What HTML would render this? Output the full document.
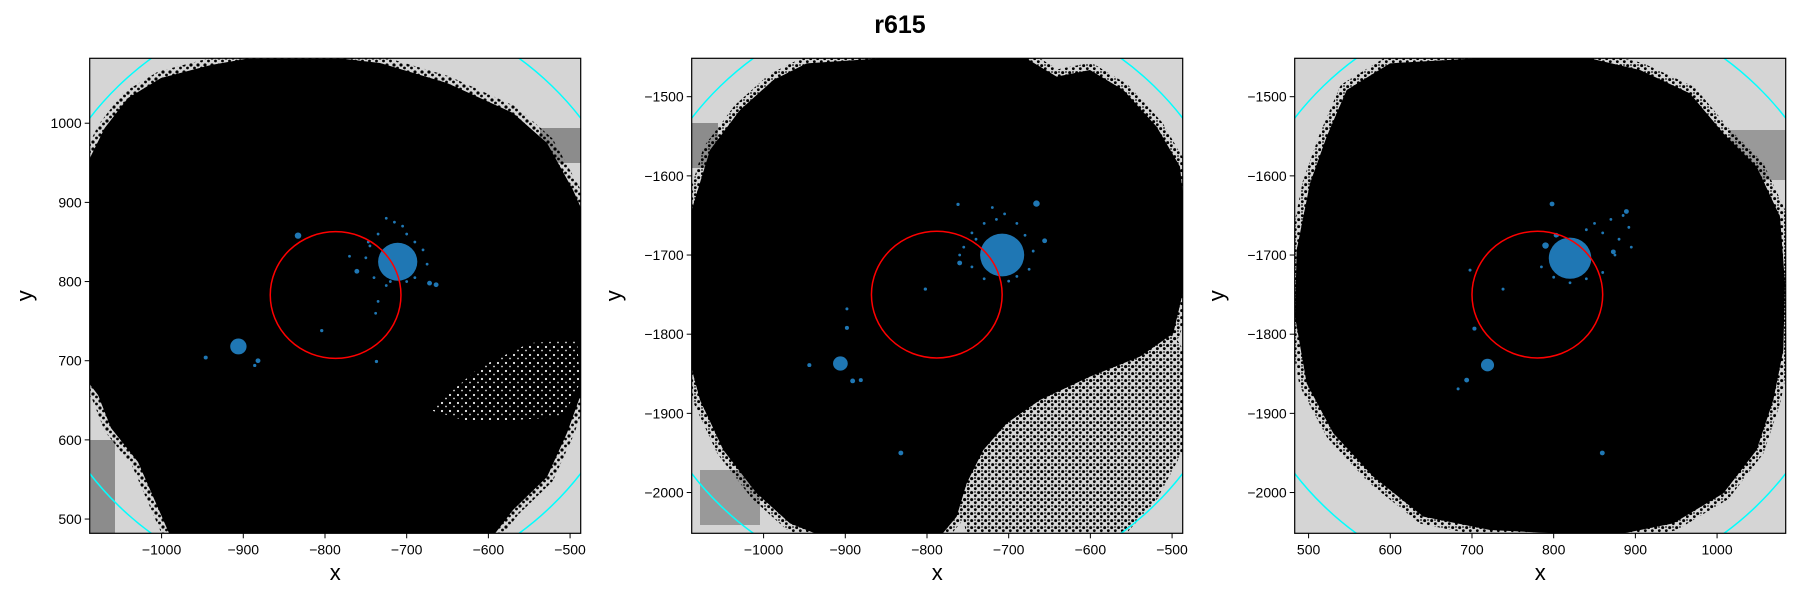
<!DOCTYPE html>
<html><head><meta charset="utf-8"><style>
html,body{margin:0;padding:0;background:#fff;width:1800px;height:600px;overflow:hidden}
svg text{font-family:"Liberation Sans","DejaVu Sans",sans-serif}
</style></head><body>
<svg id="fig" width="1800" height="600" viewBox="0 0 1800 600" xmlns="http://www.w3.org/2000/svg">
<defs>
<pattern id="dotsOnGray" width="7" height="7" patternUnits="userSpaceOnUse">
<circle cx="2" cy="2" r="1.6" fill="#000"/><circle cx="5.5" cy="5" r="1.4" fill="#000"/>
</pattern>
<pattern id="dotsOnGrayBig" width="21" height="21" patternUnits="userSpaceOnUse">
<circle cx="5" cy="5" r="4.5" fill="#000"/><circle cx="16" cy="14" r="4.2" fill="#000"/><circle cx="15" cy="3" r="2.5" fill="#000"/>
</pattern>
<pattern id="specksOnBlack" width="8" height="8" patternUnits="userSpaceOnUse">
<rect width="8" height="8" fill="#000"/><circle cx="2" cy="3" r="1.1" fill="#eee"/><circle cx="6" cy="6.5" r="0.9" fill="#ddd"/>
</pattern>
<clipPath id="c1"><rect x="89.7" y="58.3" width="491" height="475"/></clipPath>
<clipPath id="c2"><rect x="691.7" y="58.3" width="491" height="475"/></clipPath>
<clipPath id="c3"><rect x="1294.7" y="58.3" width="491" height="475"/></clipPath>
</defs>
<text x="900" y="33" text-anchor="middle" font-size="25" font-weight="bold">r615</text>

<!-- panel 1 -->
<g clip-path="url(#c1)">
<rect x="89.7" y="58.3" width="491" height="475" fill="#d5d5d5"/>
<rect x="85" y="440" width="30" height="95" fill="#8c8c8c"/>
<rect x="540" y="128" width="45" height="35" fill="#8c8c8c"/>
<polygon fill="#000" stroke="url(#dotsOnGray)" stroke-width="14" stroke-linejoin="round" points="85,168 104.7,128 128,98 161,78 211,65 245,59 345,59 380,63 447,83 513,113 547,143 573,190 585,217 585,383 567,433 547,477 513,510 490,540 172,540 138,462 111,428 98,395 85,378"/>
<polygon fill="url(#specksOnBlack)" points="430,410 480,367 530,343 577,340 580,383 563,417 513,420 463,420"/>
<g id="p1marks"></g>
</g>
<rect x="89.7" y="58.3" width="491" height="475" fill="none" stroke="#000" stroke-width="1.2"/>

<!-- panel 2 -->
<g clip-path="url(#c2)">
<rect x="691.7" y="58.3" width="491" height="475" fill="#d5d5d5"/>
<rect x="688" y="123" width="30" height="45" fill="#8c8c8c"/>
<rect x="700" y="470" width="60" height="55" fill="#999"/>
<g transform="translate(690,50) scale(0.33333)">
<polygon fill="url(#dotsOnGrayBig)" points="880,1200 950,1120 1050,1050 1200,980 1350,920 1450,850 1480,900 1480,1200 1400,1350 1300,1460 830,1460 810,1350"/>
<polygon fill="#000" stroke="url(#dotsOnGrayBig)" stroke-width="42" stroke-linejoin="round" points="-10,560 5,480 60,300 150,180 250,90 350,40 650,20 1000,20 1100,80 1200,60 1300,120 1400,230 1470,350 1485,500 1485,700 1450,850 1350,920 1200,980 1050,1050 950,1120 880,1200 830,1300 800,1400 750,1460 400,1460 300,1420 200,1330 100,1200 30,1050 -10,900"/>
</g>
<g id="p2marks"></g>
</g>
<rect x="691.7" y="58.3" width="491" height="475" fill="none" stroke="#000" stroke-width="1.2"/>

<!-- panel 3 -->
<g clip-path="url(#c3)">
<rect x="1294.7" y="58.3" width="491" height="475" fill="#d5d5d5"/>
<rect x="1730" y="130" width="60" height="50" fill="#999"/>
<g transform="translate(1290,50) scale(0.33333)">
<polygon fill="#000" stroke="url(#dotsOnGrayBig)" stroke-width="45" stroke-linejoin="round" points="170,120 300,40 560,25 900,25 1050,60 1200,130 1300,250 1400,350 1470,500 1485,700 1480,900 1450,1050 1400,1200 1300,1330 1150,1420 1000,1450 800,1450 600,1440 400,1400 250,1280 130,1150 50,1000 15,800 20,600 60,400 110,260"/>
</g>
<g id="p3marks"></g>
</g>
<rect x="1294.7" y="58.3" width="491" height="475" fill="none" stroke="#000" stroke-width="1.2"/>
<g id="axes"></g>
</svg>
<script>
// axis limits & ticks
const p1XTicks = [-1000,-900,-800,-700,-600,-500];
const p1YTicks = [500,600,700,800,900,1000];
const p2XTicks = [-1000,-900,-800,-700,-600,-500];
const p2YTicks = [-2000,-1900,-1800,-1700,-1600,-1500];
const p3XTicks = [500,600,700,800,900,1000];
const p3YTicks = [-2000,-1900,-1800,-1700,-1600,-1500];
const p1XLim = [-1088,-487]; const p1YLim = [482,1082];
const p2XLim = [-1088,-487]; const p2YLim = [-2051.5,-1451.5];
const p3XLim = [483,1084];   const p3YLim = [-2051.5,-1451.5];
// blue clusters (data coords, radius in data units)
const p1ClusterX = [-711,-833,-906,-946,-882,-886,-664,-672,-761,-804,-737];
const p1ClusterY = [825,858,718,704,700,694,796,798,813,738,699];
const p1ClusterR = [24,4,10,2.5,3,2,3,3,3,2,2];
const p1StrayX = [-725,-715,-705,-735,-700,-690,-745,-680,-750,-675,-740,-690,-725,-700,-770,-735,-738,-747,-720,-695];
const p1StrayY = [880,875,870,860,860,850,845,840,830,822,805,805,795,800,832,775,760,850,800,812];
const p2ClusterX = [-708,-906,-944,-891,-881,-898,-898,-832,-802,-666,-656,-760,-762];
const p2ClusterY = [-1700,-1837,-1839,-1859,-1858,-1792,-1768,-1950,-1743,-1635,-1682,-1710,-1636];
const p2ClusterR = [27,9,2.5,3,2.5,2.5,1.5,3,2,4,3,3,2];
const p2StrayX = [-720,-705,-730,-690,-745,-680,-755,-670,-745,-675,-730,-700,-690,-740,-715,-760];
const p2StrayY = [-1640,-1648,-1660,-1660,-1672,-1675,-1690,-1695,-1715,-1718,-1730,-1733,-1727,-1680,-1655,-1700];
const p3ClusterX = [820,719,798,859.5,738,703,693.5,683,889,873,697.6,790,803];
const p3ClusterY = [-1704,-1839,-1635.5,-1950,-1743,-1793,-1858,-1869,-1645,-1696,-1719,-1688,-1675];
const p3ClusterR = [26,8,3,3,1.5,2.5,3,1.5,3,3,1.5,4,3];
const p3StrayX = [850,870,885,860,880,895,790,785,800,840,820,860,840,805,875,892];
const p3StrayY = [-1660,-1655,-1650,-1672,-1680,-1690,-1690,-1715,-1728,-1730,-1735,-1722,-1668,-1675,-1700,-1665];
// reference circles
const redCX = [-787,-788,780]; const redCY = [783,-1750,-1750]; const redR = 80;
const fovCX = [-787.5,-787.5,783.5]; const fovCY = [782,-1751.5,-1751.5]; const fovR = 375;

const NS = "http://www.w3.org/2000/svg";
const panels = [
 {x0:89.7, xl:p1XLim, yl:p1YLim, xt:p1XTicks, yt:p1YTicks, cx:p1ClusterX, cy:p1ClusterY, cr:p1ClusterR, sx:p1StrayX, sy:p1StrayY, g:'p1marks', ylx:32},
 {x0:691.7, xl:p2XLim, yl:p2YLim, xt:p2XTicks, yt:p2YTicks, cx:p2ClusterX, cy:p2ClusterY, cr:p2ClusterR, sx:p2StrayX, sy:p2StrayY, g:'p2marks', ylx:621},
 {x0:1294.7, xl:p3XLim, yl:p3YLim, xt:p3XTicks, yt:p3YTicks, cx:p3ClusterX, cy:p3ClusterY, cr:p3ClusterR, sx:p3StrayX, sy:p3StrayY, g:'p3marks', ylx:1224}
];
const Y0 = 58.3, W = 491, H = 475;
function mk(tag, attrs, parent){const e=document.createElementNS(NS,tag);for(const k in attrs)e.setAttribute(k,attrs[k]);parent.appendChild(e);return e;}
const axesG = document.getElementById('axes');
const fmt = v => (v<0?'\u2212':'')+Math.abs(v);
panels.forEach((p,i)=>{
  const sx = v => p.x0 + (v-p.xl[0])/(p.xl[1]-p.xl[0])*W;
  const sy = v => Y0 + (p.yl[1]-v)/(p.yl[1]-p.yl[0])*H;
  const kx = W/(p.xl[1]-p.xl[0]), ky = H/(p.yl[1]-p.yl[0]);
  const g = document.getElementById(p.g);
  for(let j=0;j<p.cx.length;j++){
    const c = mk('ellipse',{cx:sx(p.cx[j]),cy:sy(p.cy[j]),rx:Math.max(p.cr[j]*kx,1.5),ry:Math.max(p.cr[j]*ky,1.5),fill:'#1f77b4'},g);
    
    
  }
  for(let j=0;j<p.sx.length;j++){
    const c = mk('circle',{cx:sx(p.sx[j]),cy:sy(p.sy[j]),r:1.4,fill:'#1f77b4'},g);
    
    
  }
  const red = mk('ellipse',{cx:sx(redCX[i]),cy:sy(redCY[i]),rx:redR*kx,ry:redR*ky,fill:'none',stroke:'#ff0000','stroke-width':1.5},g);
  
  
  const fov = mk('ellipse',{cx:sx(fovCX[i]),cy:sy(fovCY[i]),rx:fovR*kx,ry:fovR*ky,fill:'none',stroke:'#00ffff','stroke-width':1.5},g);
  
  
  p.xt.forEach(t=>{
    const x=sx(t);
    mk('line',{x1:x,x2:x,y1:Y0+H,y2:Y0+H+5,stroke:'#000','stroke-width':1},axesG);
    const tx=mk('text',{x:x,y:Y0+H+21,'text-anchor':'middle','font-size':14},axesG);
    tx.textContent=fmt(t);
    
    
  });
  p.yt.forEach(t=>{
    const y=sy(t);
    mk('line',{x1:p.x0-5,x2:p.x0,y1:y,y2:y,stroke:'#000','stroke-width':1},axesG);
    const tx=mk('text',{x:p.x0-8,y:y+5,'text-anchor':'end','font-size':14},axesG);
    tx.textContent=fmt(t);
    
    
  });
  const xl=mk('text',{x:p.x0+W/2,y:580,'text-anchor':'middle','font-size':22},axesG);
  xl.textContent='x';
  
  
  const yl=mk('text',{x:p.ylx,y:Y0+H/2,'text-anchor':'middle','font-size':22,transform:`rotate(-90 ${p.ylx} ${Y0+H/2})`},axesG);
  yl.textContent='y';
  
  
});
</script>
</body></html>
